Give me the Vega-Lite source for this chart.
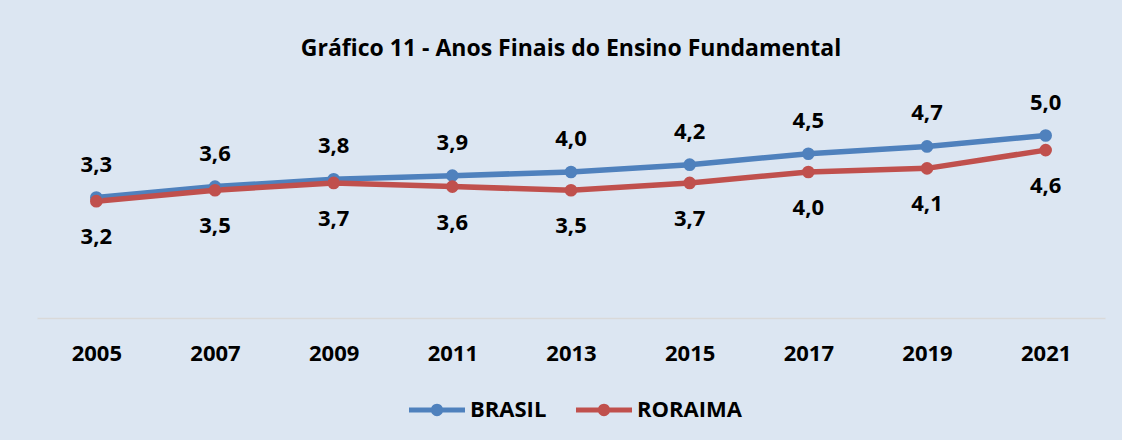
{
  "$schema": "https://vega.github.io/schema/vega-lite/v6.json",
  "width": 1068,
  "height": 219,
  "autosize": {"type": "none"},
  "padding": {"left": 37, "top": 99, "right": 17, "bottom": 122},
  "background": "#dce6f2",
  "config": {
    "view": {"stroke": null},
    "font": "Open Sans",
    "locale": {"number": {"decimal": ",", "thousands": ".", "grouping": [3], "currency": ["R$", ""]}}
  },
  "title": {
    "text": "Gráfico 11 - Anos Finais do Ensino Fundamental",
    "font": "Open Sans",
    "fontSize": 23,
    "fontWeight": "bold",
    "color": "#000000",
    "anchor": "middle",
    "offset": 31
  },
  "data": {
    "values": [
      {"ano": "2005", "serie": "BRASIL", "valor": 3.3},
      {"ano": "2007", "serie": "BRASIL", "valor": 3.6},
      {"ano": "2009", "serie": "BRASIL", "valor": 3.8},
      {"ano": "2011", "serie": "BRASIL", "valor": 3.9},
      {"ano": "2013", "serie": "BRASIL", "valor": 4.0},
      {"ano": "2015", "serie": "BRASIL", "valor": 4.2},
      {"ano": "2017", "serie": "BRASIL", "valor": 4.5},
      {"ano": "2019", "serie": "BRASIL", "valor": 4.7},
      {"ano": "2021", "serie": "BRASIL", "valor": 5.0},
      {"ano": "2005", "serie": "RORAIMA", "valor": 3.2},
      {"ano": "2007", "serie": "RORAIMA", "valor": 3.5},
      {"ano": "2009", "serie": "RORAIMA", "valor": 3.7},
      {"ano": "2011", "serie": "RORAIMA", "valor": 3.6},
      {"ano": "2013", "serie": "RORAIMA", "valor": 3.5},
      {"ano": "2015", "serie": "RORAIMA", "valor": 3.7},
      {"ano": "2017", "serie": "RORAIMA", "valor": 4.0},
      {"ano": "2019", "serie": "RORAIMA", "valor": 4.1},
      {"ano": "2021", "serie": "RORAIMA", "valor": 4.6}
    ]
  },
  "encoding": {
    "x": {
      "field": "ano",
      "type": "ordinal",
      "scale": {"type": "point", "padding": 0.5},
      "axis": {
        "title": null,
        "labelAngle": 0,
        "ticks": false,
        "grid": false,
        "domainColor": "#d9d9d9",
        "domainWidth": 1.5,
        "labelFont": "Open Sans",
        "labelFontSize": 22,
        "labelFontWeight": "bold",
        "labelColor": "#000000",
        "labelBaseline": "middle",
        "labelPadding": 35
      }
    },
    "y": {
      "field": "valor",
      "type": "quantitative",
      "scale": {"domain": [0, 6], "nice": false, "zero": true},
      "axis": null
    }
  },
  "layer": [
    {
      "mark": {"type": "line", "strokeWidth": 5.5},
      "encoding": {
        "color": {
          "field": "serie",
          "type": "nominal",
          "scale": {"domain": ["BRASIL", "RORAIMA"], "range": ["#4f81bd", "#c0504d"]},
          "legend": {
            "title": null,
            "orient": "none",
            "direction": "horizontal",
            "legendX": 372,
            "legendY": 283,
            "labelFont": "Open Sans",
            "labelFontSize": 22,
            "labelFontWeight": "bold",
            "labelColor": "#000000",
            "labelOffset": 5,
            "columnPadding": 29,
            "symbolSize": 3136,
            "symbolType": "M-1,-0.09H1V0.09H-1Z M0.22,0A0.22,0.22 0 1,1 -0.22,0A0.22,0.22 0 1,1 0.22,0Z",
            "encode": {
              "symbols": {
                "update": {
                  "fill": {"scale": "color", "field": "value"},
                  "stroke": {"value": "transparent"},
                  "strokeWidth": {"value": 0},
                  "opacity": {"value": 1}
                }
              }
            }
          }
        },
        "detail": {"field": "serie"}
      }
    },
    {
      "mark": {"type": "point", "filled": true, "size": 160, "opacity": 1},
      "encoding": {
        "color": {"field": "serie", "type": "nominal", "legend": null},
        "detail": {"field": "serie"}
      }
    },
    {
      "transform": [{"filter": "datum.serie == 'BRASIL'"}],
      "mark": {"type": "text", "dy": -33, "font": "Open Sans", "fontSize": 22, "fontWeight": "bold", "color": "#000000", "baseline": "middle"},
      "encoding": {"text": {"field": "valor", "type": "quantitative", "format": ".1f"}}
    },
    {
      "transform": [{"filter": "datum.serie == 'RORAIMA'"}],
      "mark": {"type": "text", "dy": 36, "font": "Open Sans", "fontSize": 22, "fontWeight": "bold", "color": "#000000", "baseline": "middle"},
      "encoding": {"text": {"field": "valor", "type": "quantitative", "format": ".1f"}}
    }
  ]
}
